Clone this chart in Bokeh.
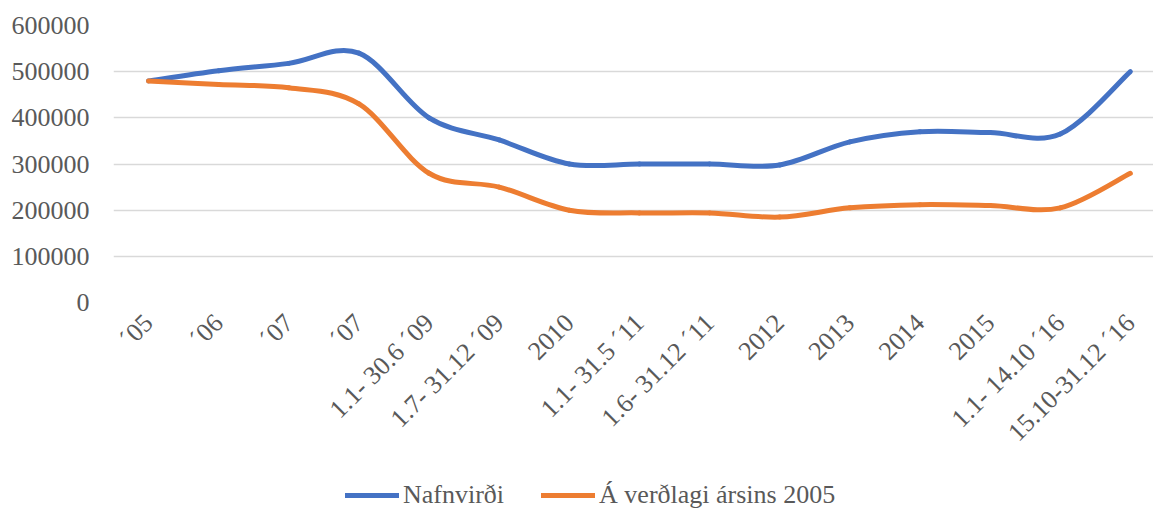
import numpy as np
from bokeh.plotting import figure
from bokeh.layouts import column
from bokeh.models import Range1d, FixedTicker, Legend, LegendItem, ColumnDataSource
from bokeh.embed import file_html
from bokeh.resources import INLINE

categories = ["´05", "´06", "´07", "´07", "1.1- 30.6 ´09", "1.7- 31.12 ´09", "2010",
              "1.1- 31.5 ´11", "1.6- 31.12 ´11", "2012", "2013", "2014", "2015",
              "1.1- 14.10 ´16", "15.10-31.12 ´16"]
nafnvirdi = [480000, 502000, 518000, 540000, 400000, 352000, 300000, 300000,
             300000, 298000, 348000, 370000, 368000, 365000, 500000]
verdlag2005 = [480000, 472000, 465000, 430000, 280000, 250000, 200000, 194000,
               194000, 185000, 205000, 212000, 210000, 205000, 280000]
y_ticks = [0, 100000, 200000, 300000, 400000, 500000, 600000]

FONT = "Liberation Serif"
GREY = "#595959"
BLUE = "#4472C4"
ORANGE = "#ED7D31"


def bezier_source(vals):
    x = np.arange(len(vals), dtype=float)
    y = np.asarray(vals, dtype=float)
    xp = np.concatenate([[x[0]], x, [x[-1]]])
    yp = np.concatenate([[y[0]], y, [y[-1]]])
    d = {"x0": [], "y0": [], "x1": [], "y1": [], "cx0": [], "cy0": [], "cx1": [], "cy1": []}
    for i in range(len(x) - 1):
        p0x, p0y = xp[i], yp[i]
        p1x, p1y = xp[i + 1], yp[i + 1]
        p2x, p2y = xp[i + 2], yp[i + 2]
        p3x, p3y = xp[i + 3], yp[i + 3]
        d["x0"].append(p1x); d["y0"].append(p1y)
        d["x1"].append(p2x); d["y1"].append(p2y)
        d["cx0"].append(p1x + (p2x - p0x) / 6); d["cy0"].append(p1y + (p2y - p0y) / 6)
        d["cx1"].append(p2x - (p3x - p1x) / 6); d["cy1"].append(p2y - (p3y - p1y) / 6)
    return ColumnDataSource(d)


p = figure(width=1153, height=470, output_backend="svg", toolbar_location=None,
           x_range=Range1d(-0.5, 14.33), y_range=Range1d(0, 600000),
           min_border_left=113, min_border_right=0, min_border_top=25,
           min_border_bottom=168)
p.outline_line_color = None
p.background_fill_color = "white"
p.border_fill_color = "white"

p.xgrid.grid_line_color = None
p.ygrid.grid_line_color = "#D9D9D9"
p.ygrid.grid_line_width = 1.3
p.yaxis.ticker = FixedTicker(ticks=y_ticks)
p.yaxis.axis_line_color = None
p.yaxis.major_tick_line_color = None
p.yaxis.minor_tick_line_color = None
p.yaxis.major_label_text_font = FONT
p.yaxis.major_label_text_font_size = "26px"
p.yaxis.major_label_text_color = GREY
p.yaxis.major_label_standoff = 18
p.yaxis.formatter.use_scientific = False

p.xaxis.ticker = FixedTicker(ticks=list(range(len(categories))))
p.xaxis.major_label_overrides = {i: c for i, c in enumerate(categories)}
p.xaxis.axis_line_color = None
p.xaxis.major_tick_line_color = None
p.xaxis.minor_tick_line_color = None
p.xaxis.major_label_orientation = np.pi / 4
p.xaxis.major_label_text_font = FONT
p.xaxis.major_label_text_font_size = "26px"
p.xaxis.major_label_text_color = GREY
p.xaxis.major_label_standoff = 10

p.bezier(x0="x0", y0="y0", x1="x1", y1="y1", cx0="cx0", cy0="cy0", cx1="cx1", cy1="cy1",
         source=bezier_source(nafnvirdi), line_color=BLUE, line_width=5, line_cap="round")
p.bezier(x0="x0", y0="y0", x1="x1", y1="y1", cx0="cx0", cy0="cy0", cx1="cx1", cy1="cy1",
         source=bezier_source(verdlag2005), line_color=ORANGE, line_width=5, line_cap="round")

# separate strip holding the legend (series lines lie outside its visible range)
lg = figure(width=1153, height=41, output_backend="svg", toolbar_location=None,
            x_range=Range1d(0, 1), y_range=Range1d(-2, -1),
            min_border_left=0, min_border_right=0, min_border_top=0, min_border_bottom=0)
lg.axis.visible = False
lg.grid.visible = False
lg.outline_line_color = None
lg.background_fill_color = "white"
lg.border_fill_color = "white"
l1 = lg.line(x=list(range(len(nafnvirdi))), y=nafnvirdi, line_color=BLUE, line_width=5,
             line_cap="round")
l2 = lg.line(x=list(range(len(verdlag2005))), y=verdlag2005, line_color=ORANGE, line_width=5,
             line_cap="round")

legend = Legend(items=[LegendItem(label="Nafnvirði", renderers=[l1]),
                       LegendItem(label="Á verðlagi ársins 2005", renderers=[l2])],
                orientation="horizontal", location=(232, 1),
                label_text_font=FONT, label_text_font_size="26px", label_text_color=GREY,
                glyph_width=54, label_standoff=4, spacing=37, border_line_color=None,
                background_fill_alpha=0, padding=0, margin=0)
lg.add_layout(legend, "center")

layout = column(p, lg, spacing=0)
open("out.html", "w").write(file_html(layout, INLINE))
